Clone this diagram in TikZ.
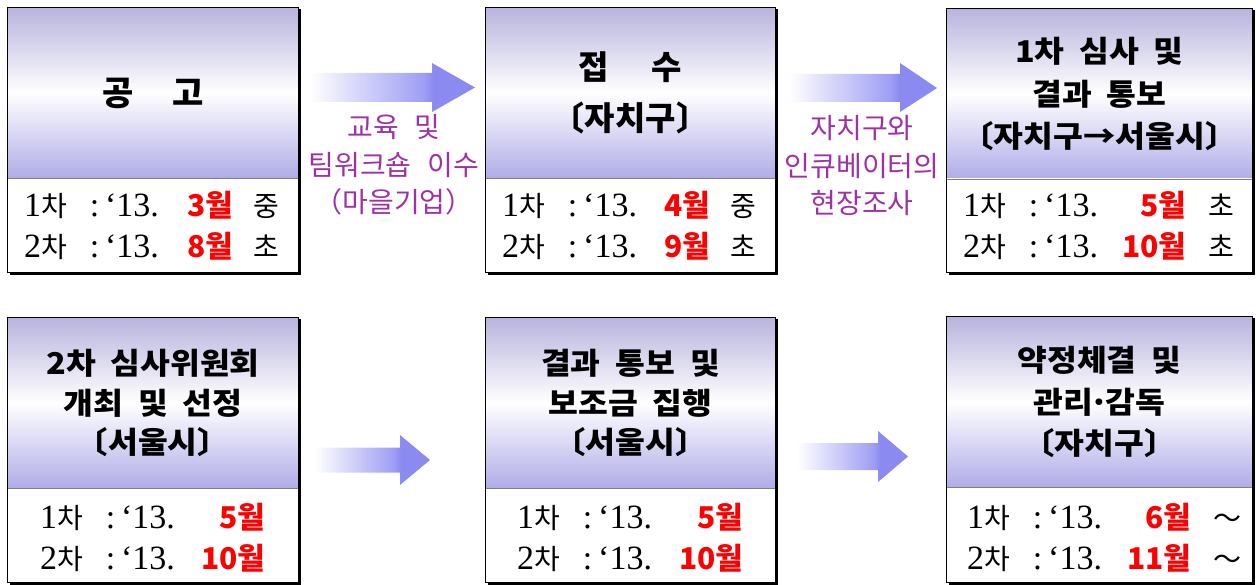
\documentclass[tikz,border=0pt]{standalone}
\usepackage{fontspec}
\setmainfont{Liberation Serif}
\newfontfamily\kr{Noto Sans CJK KR}
\newfontfamily\krh{Noto Sans CJK KR}[WordSpace=2.0,FakeStretch=1.08,RawFeature={+halt}]
\newfontfamily\krb{Noto Sans CJK KR}[WordSpace=2.0,RawFeature={+halt}]
\newfontfamily\krl{Noto Sans CJK KR}[WordSpace=1.6]
\usetikzlibrary{backgrounds}
\definecolor{hdtop}{RGB}{184,180,222}
\definecolor{hdbot}{RGB}{176,172,232}
\definecolor{lblc}{RGB}{158,50,165}
\definecolor{arrc}{RGB}{138,138,240}
\definecolor{arrd}{RGB}{158,158,244}
\pgfdeclarehorizontalshading{arrsh}{100bp}{color(0bp)=(white); color(27bp)=(white); color(60bp)=(arrd); color(63bp)=(arrc); color(100bp)=(arrc)}
\newcommand\krs{\kr\fontsize{28}{28}\selectfont}
\newcommand\mon{\kr\bfseries\fontsize{30}{30}\selectfont\color{red}}
\newcommand\dline[4]{\makebox[62pt][l]{#1{\krs 차}}\makebox[17pt]{:}\makebox[#3pt][l]{\kern2pt‘13.\hfill{\mon #2}}#4}
\begin{document}
\begin{tikzpicture}[x=1pt,y=-1pt,
  hdr/.style={rectangle, inner sep=0pt, minimum width=#1, minimum height=170pt,
    top color=hdtop, bottom color=hdbot, middle color=white, align=center,
    font=\krh\bfseries\fontsize{30}{43}\selectfont},
  btm/.style={rectangle, inner sep=0pt, minimum width=#1, minimum height=94pt, fill=white},
  dt/.style={anchor=base west, inner sep=0pt, font=\fontsize{34}{34}\selectfont},
  lbl/.style={align=center, inner sep=0pt, text=lblc, font=\krl\fontsize{28}{37.5}\selectfont},
  outline/.style={draw=black, line width=1.2pt},
  sep/.style={draw=gray, line width=0.8pt},
  shadowc/.style={fill=black}]
\useasboundingbox (0,0) rectangle (1256,585);

% ---------- row 1 ----------
\node[hdr=290,font=\krb\bfseries\fontsize{34}{43}\selectfont] (h1) at (153,93) {공\hspace{1.15em}고};
\node[btm=290] (b1) at (153,225) {};
\node[hdr=289,font=\krb\bfseries\fontsize{33}{51}\selectfont] (h2) at (630.5,93) {접\hspace{1.3em}수\\〔자치구〕};
\node[btm=289] (b2) at (630.5,225) {};
\node[hdr=305,font=\krh\bfseries\fontsize{30}{42.5}\selectfont] (h3) at (1099.5,94) {1차 심사 및\\결과 통보\\〔자치구→서울시〕};
\node[btm=305] (b3) at (1099.5,225) {};

% ---------- row 2 ----------
\node[hdr=290,font=\krh\bfseries\fontsize{30}{39.5}\selectfont] (h4) at (153,403) {2차 심사위원회\\개최 및 선정\\〔서울시〕};
\node[btm=290] (b4) at (153,535) {};
\node[hdr=289,font=\krh\bfseries\fontsize{30}{39.5}\selectfont] (h5) at (630.5,403) {결과 통보 및\\보조금 집행\\〔서울시〕};
\node[btm=289] (b5) at (630.5,535) {};
\node[hdr=305,font=\krh\bfseries\fontsize{30}{41.5}\selectfont] (h6) at (1099.5,402) {약정체결 및\\관리\kern-.12em·\kern-.12em감독\\〔자치구〕};
\node[btm=305] (b6) at (1099.5,535) {};

\begin{pgfonlayer}{background}
\foreach \h/\b in {h1/b1,h2/b2,h3/b3,h4/b4,h5/b5,h6/b6}{
  \fill[shadowc] ([shift={(2,1)}]\h.north west) rectangle ([shift={(3,3)}]\b.south east);
}
\end{pgfonlayer}
\foreach \h/\b in {h1/b1,h2/b2,h3/b3,h4/b4,h5/b5,h6/b6}{
  \draw[sep] (\h.south west) -- (\h.south east);
  \draw[outline] (\h.north west) rectangle (\b.south east);
}

% ---------- date lines ----------
\node[dt] (d1a) at (24,217) {\dline{1}{3월}{130}{\hspace{20pt}{\krs 중}}};
\node[dt] (d1b) at (24,258) {\dline{2}{8월}{130}{\hspace{20pt}{\krs 초}}};
\node[dt] (d2a) at (502,217) {\dline{1}{4월}{129}{\hspace{20pt}{\krs 중}}};
\node[dt] (d2b) at (502,258) {\dline{2}{9월}{129}{\hspace{20pt}{\krs 초}}};
\node[dt] (d3a) at (963,217) {\dline{1}{5월}{144}{\hspace{22pt}{\krs 초}}};
\node[dt] (d3b) at (963,258) {\dline{2}{10월}{144}{\hspace{22pt}{\krs 초}}};
\node[dt] (d4a) at (40,528) {\dline{1}{5월}{146}{}};
\node[dt] (d4b) at (40,569) {\dline{2}{10월}{146}{}};
\node[dt] (d5a) at (517,528) {\dline{1}{5월}{147}{}};
\node[dt] (d5b) at (517,569) {\dline{2}{10월}{147}{}};
\node[dt] (d6a) at (967,528) {\dline{1}{6월}{145}{\hspace{22pt}{\krs ～}}};
\node[dt] (d6b) at (967,569) {\dline{2}{11월}{145}{\hspace{22pt}{\krs ～}}};

% ---------- block arrows ----------
\shade[shading=arrsh] (303,73) -- (432,73) -- (432,63) -- (475,87.5) -- (432,112) -- (432,102) -- (303,102) -- cycle;
\shade[shading=arrsh] (783,74) -- (900,74) -- (900,63) -- (937,88) -- (900,112) -- (900,102) -- (783,102) -- cycle;
\shade[shading=arrsh] (310,447.5) -- (400,447.5) -- (400,435) -- (430,460) -- (400,485) -- (400,472.5) -- (310,472.5) -- cycle;
\shade[shading=arrsh] (793,443) -- (878,443) -- (878,431) -- (908,456.5) -- (878,482) -- (878,470) -- (793,470) -- cycle;

% ---------- arrow labels ----------
\node[lbl] (l1) at (394,165) {교육 및\\팀워크숍 이수\\（마을기업）};
\node[lbl] (l2) at (862,166) {자치구와\\인큐베이터의\\현장조사};
\end{tikzpicture}
\end{document}
